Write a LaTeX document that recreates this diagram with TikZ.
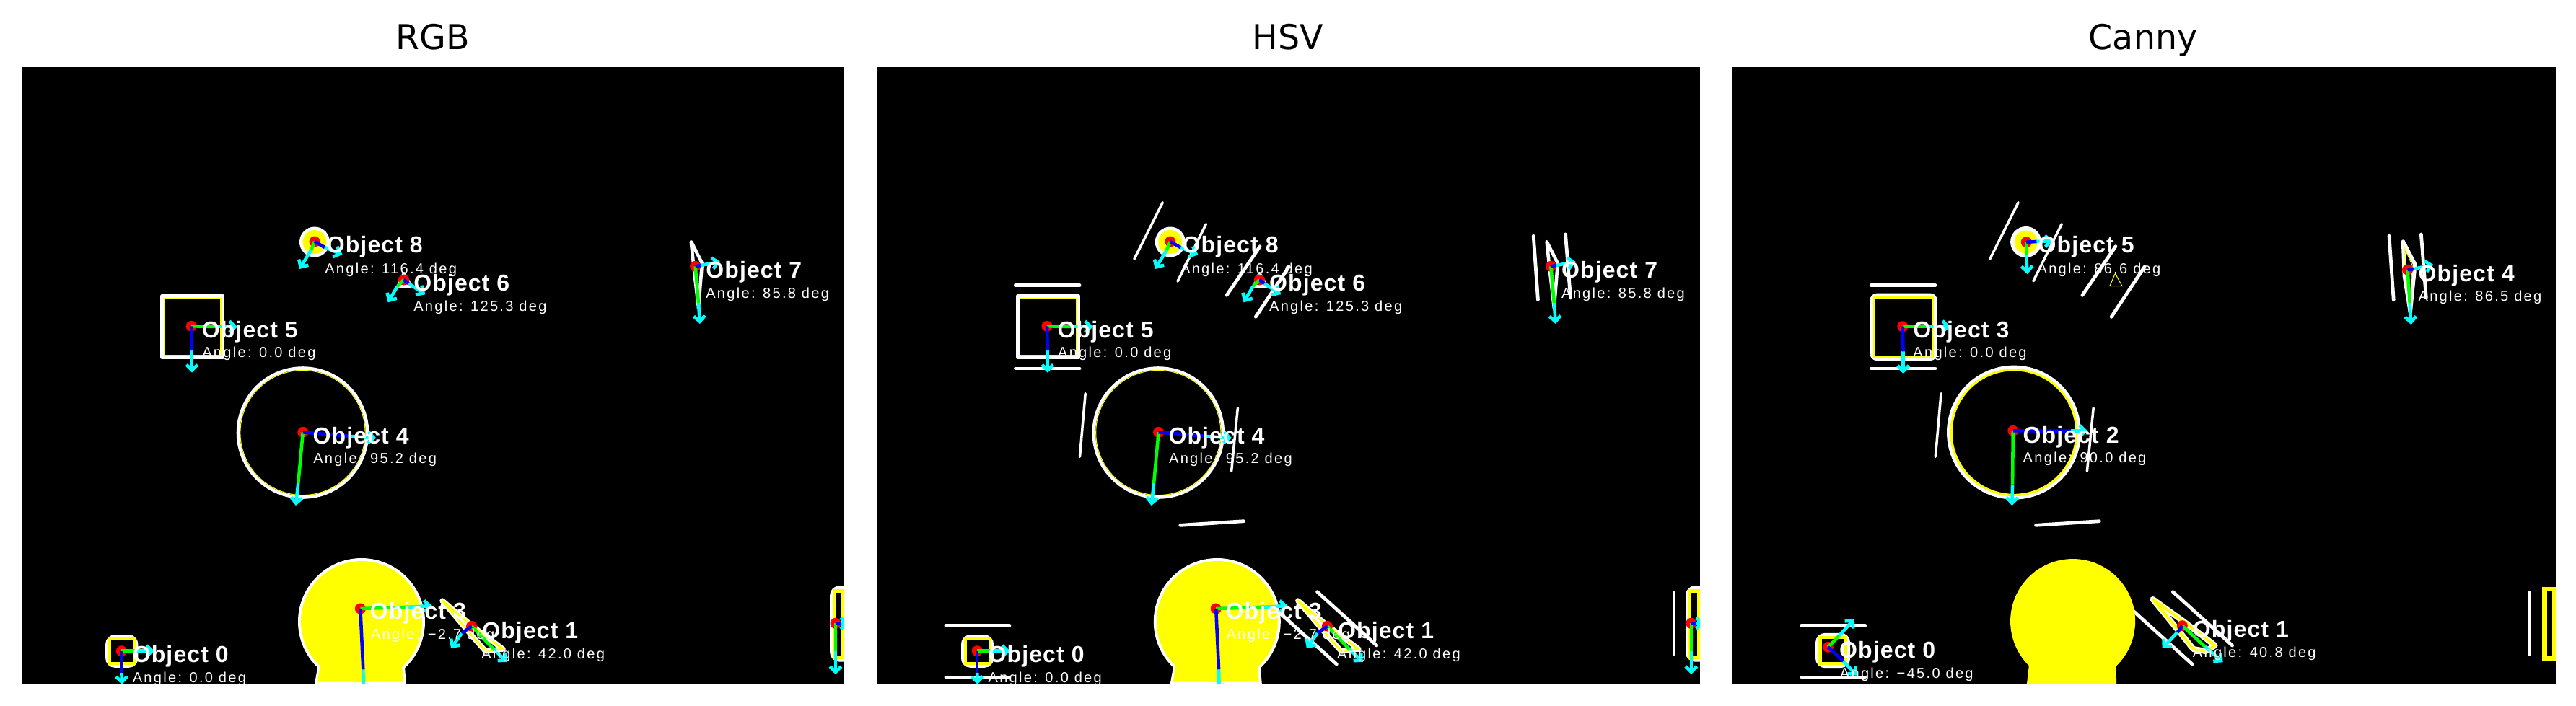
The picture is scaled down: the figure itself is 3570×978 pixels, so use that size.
\documentclass[tikz,border=0pt]{standalone}
\usepackage{fontspec}
\setmainfont{Liberation Sans}
\newfontfamily\titlefont{DejaVu Sans}
\newfontfamily\anglefont[LetterSpace=11.5]{Liberation Sans}
\newfontfamily\objfont[LetterSpace=3.5]{Liberation Sans}
\usetikzlibrary{arrows.meta}
\definecolor{cvcyan}{RGB}{0,255,255}
\definecolor{cvgreen}{RGB}{0,255,0}
\definecolor{cvblue}{RGB}{0,0,255}
\definecolor{cvred}{RGB}{255,0,0}
\definecolor{cvyellow}{RGB}{255,255,0}
\tikzset{
  lwhite/.style={draw=white,line width=1.3pt,line join=round},
  lyellow/.style={draw=cvyellow,line width=0.3pt},
  hline/.style={draw=white,line width=1pt,line cap=round},
  hthick/.style={draw=white,line width=1.35pt,line cap=round},
  axgreen/.style={draw=cvgreen,line width=1.3pt},
  axblue/.style={draw=cvblue,line width=1.3pt},
  axcyan/.style={draw=cvcyan,line width=1.3pt,-{Straight Barb[length=2.2pt,width=4.4pt,line width=1.3pt]}},
  objlabel/.style={text=white,anchor=base west,inner sep=0pt,xshift=-0.4pt,font=\objfont\bfseries\fontsize{9.1}{10}\selectfont},
  anglabel/.style={text=white,anchor=base west,inner sep=0pt,xshift=-0.4pt,font=\anglefont\fontsize{5.7}{7}\selectfont},
  paneltitle/.style={text=black,anchor=base,inner sep=0pt,font=\titlefont\fontsize{13.5}{16}\selectfont}
}
% centre; green end; green tip; blue end; blue tip
\newcommand{\objaxes}[5]{%
  \fill[cvred] (#1) circle (7.5);
  \draw[axcyan] (#2) -- (#3);
  \draw[axcyan] (#4) -- (#5);
  \draw[axgreen] (#1) -- (#2);
  \draw[axblue] (#1) -- (#4);
}
% name; x; y; object text; angle x; angle y; angle text
\newcommand{\objtext}[7]{%
  \node[objlabel] (\pn-#1) at (#2,#3) {#4};
  \node[anglabel] (\pn-#1a) at (#5,#6) {#7};
}
\newcommand{\panelbase}{%
  \fill[black] (29.8,93) rectangle (1170.2,948);
  \clip (29.8,93) rectangle (1170.2,948);
}
\newcommand{\minrectlines}{%
  \draw[hline] (425.5,280.7) -- (386.1,359.3);
  \draw[hline] (485.6,310.7) -- (446.2,390);
  \draw[hthick] (560.3,341.7) -- (514.3,409.3);
  \draw[hthick] (600.4,370) -- (554.5,439.3);
  \draw[hthick] (221.6,395.7) -- (310.3,395.7);
  \draw[hthick] (221.6,511) -- (310.3,511);
  \draw[hline] (318.4,545.7) -- (310.7,633.3);
  \draw[hline] (529.6,565.7) -- (520.8,653.3);
  \draw[hthick] (450,728.3) -- (537.7,722.7);
  \draw[hthick] (125.1,867.3) -- (213.1,867.3);
  \draw[hthick] (125.1,939) -- (213.1,939);
  \draw[hthick] (939.4,327.3) -- (945.6,415.7);
  \draw[hthick] (983.8,325) -- (990.7,413);
  \draw[hthick] (639.8,820.7) -- (722,895);
  \draw[hthick] (584.6,847) -- (666.6,921);
  \draw[hline] (1133.5,820.7) -- (1133.5,908.3);
}
\newcommand{\sceneA}{%
  % big blob
  \fill[white] (501,862) circle (88);
  \fill[white] (442,915) -- (436,948) -- (563,948) -- (560,915) -- cycle;
  \fill[cvyellow] (501,862) circle (84);
  \fill[cvyellow] (445,915) -- (440,945.5) -- (559,945.5) -- (556.5,915) -- cycle;
  % small disc
  \fill[white] (436,335.5) circle (21);
  \fill[cvyellow] (436,335.5) circle (16.5);
  % square
  \draw[lwhite] (224.5,410.5) rectangle (309,495.5);
  \draw[lyellow] (227.6,413.6) rectangle (306,492.5);
  % big ring
  \draw[lwhite] (419.5,600) circle (89.5);
  \draw[lyellow] (419.5,600) circle (86.6);
  % small square
  \draw[lwhite,rounded corners=3pt] (148.5,882.5) rectangle (189,923.5);
  \draw[draw=cvyellow,line width=1.3pt] (152,886) rectangle (186,920);
  % triangle
  \draw[lwhite] (559.8,379.3) -- (552,396.7) -- (569.4,396.7) -- cycle;
  % sliver right
  \draw[lwhite] (957.8,335) -- (973,365) -- (968,427) -- (962,375) -- cycle;
  % diagonal bar
  \draw[draw=white,line width=2.1pt,line join=round] (613,833) -- (652,866) -- (697,900) -- (673,903) -- (657,885) -- cycle;
  \draw[draw=cvyellow,line width=0.8pt,line join=round] (613,833) -- (652,866) -- (697,900) -- (673,903) -- (657,885) -- cycle;
  % right rectangle
  \draw[lwhite,rounded corners=3pt] (1152.5,814.7) rectangle (1190,915.3);
  \draw[draw=cvyellow,line width=1.25pt] (1156.4,819.5) rectangle (1168.5,911.5);
  % axes
  \objaxes{436,335}{431,347}{415,373}{450,343}{474.5,353}
  \objaxes{265.2,452.3}{302,453}{329,453}{266,486}{266,516.7}
  \objaxes{559.5,388}{551,396.7}{537.7,419.3}{566.4,393}{589.3,408.3}
  \objaxes{419.8,599.3}{413.3,670}{409.9,701}{486,605}{521.2,607.3}
  \objaxes{963.6,369.3}{968,420}{970,449}{971,368}{998,363}
  \objaxes{653.6,868.3}{684,900}{703,918}{640,878}{625,899}
  \objaxes{1158,864.3}{1158,903}{1158,935}{1164.5,864.3}{1176,864.3}
  \objaxes{168.4,902.7}{187.5,902.7}{214,902.7}{168.4,933}{169,949}
  \objaxes{499.4,844}{566.4,841.7}{599,840}{503.3,928.3}{504,960}
  % text
  \objtext{o8}{453.5}{350.7}{Object 8}{451}{379}{Angle: 116.4 deg}
  \objtext{o6}{574}{403}{Object 6}{574}{431.7}{Angle: 125.3 deg}
  \objtext{o7}{979}{385}{Object 7}{979}{413.3}{Angle: 85.8 deg}
  \objtext{o5}{280.5}{468}{Object 5}{281}{495}{Angle: 0.0 deg}
  \objtext{o4}{434.4}{615}{Object 4}{435}{642.7}{Angle: 95.2 deg}
  \objtext{o3}{513.6}{858}{Object 3}{514.7}{886.7}{Angle: −2.7 deg}
  \objtext{o1}{669}{885}{Object 1}{668}{913.3}{Angle: 42.0 deg}
  \objtext{o0}{184.5}{918}{Object 0}{184.5}{946}{Angle: 0.0 deg}
}
\newcommand{\sceneB}{%
  % big blob, no contour
  \fill[cvyellow] (501,861.5) circle (86.5);
  \fill[cvyellow] (441.2,915) -- (437.4,948) -- (561.5,948) -- (561,915) -- cycle;
  % small disc
  \fill[white] (436,335.5) circle (21.5);
  \fill[cvyellow] (436,335.5) circle (16);
  % square
  \draw[draw=white,line width=1.3pt,rounded corners=2pt] (222.3,409) rectangle (310.7,497.7);
  \draw[draw=cvyellow,line width=1.0pt] (226,413) rectangle (307,495);
  % big ring
  \draw[draw=white,line width=1.4pt] (419.4,599.6) circle (90.5);
  \draw[draw=cvyellow,line width=0.9pt] (419.4,599.6) circle (86.8);
  % small square
  \draw[lwhite,rounded corners=3pt] (146.8,880.2) rectangle (190.2,923.8);
  \draw[draw=cvyellow,line width=1.3pt] (151,884) rectangle (186.5,920);
  % yellow triangle
  \draw[lyellow] (559.8,379.3) -- (552.2,396.7) -- (569.4,396.7) -- cycle;
  % sliver right
  \draw[draw=white,line width=1.5pt,line join=round] (958.9,335) -- (975.3,366.7) -- (968.7,433) -- (960.7,383) -- cycle;
  \draw[draw=cvyellow,line width=0.3pt] (960,342) -- (971.5,368) -- (968,425) -- (963,383) -- cycle;
  % diagonal bar
  \draw[draw=white,line width=2.3pt,line join=round] (612,831) -- (655,862) -- (698,895) -- (685,903) -- (668,900) -- (652,880) -- cycle;
  \draw[draw=cvyellow,line width=1.1pt,line join=round] (612,831) -- (655,862) -- (698,895) -- (685,903) -- (668,900) -- (652,880) -- cycle;
  % right rectangle, no contour
  \draw[draw=cvyellow,line width=1.9pt] (1154.8,817) rectangle (1169,913.7);
  % axes
  \objaxes{436.6,335.7}{436.6,353}{438.1,380}{450.8,335}{473.7,334}
  \objaxes{265.2,452.7}{301,452.7}{331.4,452.7}{266,487.3}{266,518}
  \objaxes{418.2,597.3}{417.5,671.7}{416.7,701}{498.6,597.7}{521.6,597.7}
  \objaxes{965,374}{968,420}{969.8,450}{973.4,373}{1000.7,367}
  \objaxes{652.7,867.7}{684.3,896.7}{709,918.3}{646.2,876.7}{625,899}
  \objaxes{161.8,897.3}{177.1,881.7}{198.2,858.3}{182.9,916.7}{202,936.7}
  % text
  \objtext{o5}{453.8}{350.7}{Object 5}{452.7}{379}{Angle: 86.6 deg}
  \objtext{o3}{280.5}{468}{Object 3}{280.5}{495}{Angle: 0.0 deg}
  \objtext{o2}{432.8}{614}{Object 2}{432.8}{641.7}{Angle: 90.0 deg}
  \objtext{o4}{980.7}{390}{Object 4}{980.7}{417.3}{Angle: 86.5 deg}
  \objtext{o1}{668}{883}{Object 1}{668}{911.7}{Angle: 40.8 deg}
  \objtext{o0}{178.3}{912.7}{Object 0}{179}{940}{Angle: −45.0 deg}
}
\begin{document}
\begin{tikzpicture}[x=0.01cm,y=-0.01cm]
  \useasboundingbox (0,0) rectangle (3570,978);
  \fill[white] (0,0) rectangle (3570,978);
  \node[paneltitle] (title1) at (600,68) {RGB};
  \node[paneltitle] (title2) at (1785,68) {HSV};
  \node[paneltitle] (title3) at (2970,68) {Canny};
  \begin{scope}
    \def\pn{a}
    \panelbase
    \sceneA
  \end{scope}
  \begin{scope}[xshift=11.851cm]
    \def\pn{b}
    \panelbase
    \minrectlines
    \sceneA
  \end{scope}
  \begin{scope}[xshift=23.702cm]
    \def\pn{c}
    \panelbase
    \minrectlines
    \sceneB
  \end{scope}
\end{tikzpicture}
\end{document}
